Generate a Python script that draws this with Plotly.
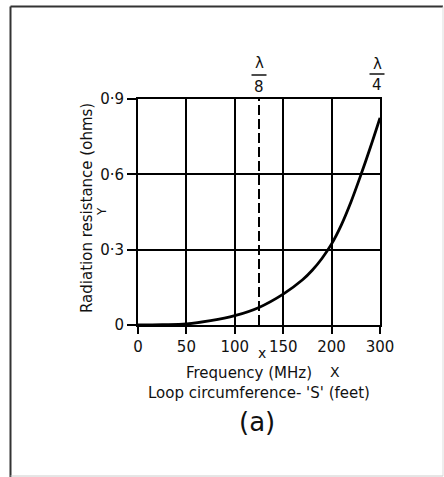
import plotly.graph_objects as go

# Data (x in grid units; last grid line is labelled 300 in the original)
freq_pos = [0, 25, 50, 75, 100, 125, 150, 170, 180, 190, 200, 210, 220, 230, 240, 250]
resistance = [0, 0.001, 0.004, 0.017, 0.037, 0.07, 0.123, 0.18, 0.218, 0.265, 0.323, 0.398, 0.49, 0.595, 0.707, 0.825]
x_tickvals = [0, 50, 100, 150, 200, 250]
x_ticktext = ["0", "50", "100", "150", "200", "300"]
y_tickvals = [0, 0.3, 0.6, 0.9]
y_ticktext = ["0", "0·3", "0·6", "0·9"]
lambda8_x = 125

W, H = 444, 477
L, R, T, B = 138, 380, 99, 325

def px(xp):
    return (xp - L) / (R - L)

def py(yp):
    return (B - yp) / (B - T)

FONT = "DejaVu Sans"
fig = go.Figure()
fig.add_trace(go.Scatter(x=freq_pos, y=resistance, mode="lines",
                         line=dict(color="black", width=2.8, shape="spline", smoothing=1),
                         hoverinfo="skip", showlegend=False))
fig.add_trace(go.Scatter(x=[lambda8_x, lambda8_x], y=[0, 0.9], mode="lines",
                         line=dict(color="black", width=2, dash="10px,4px"),
                         hoverinfo="skip", showlegend=False))

ann = []
def text(x, y, s, size=15, angle=0):
    ann.append(dict(xref="paper", yref="paper", x=px(x), y=py(y), text=s, showarrow=False,
                    xanchor="center", yanchor="middle", textangle=angle,
                    font=dict(family=FONT, size=size, color="#111")))

text(248.5, 373, "Frequency (MHz)")
text(335, 372, "X", size=14)
text(262, 353, "x", size=14)
text(259, 393, "Loop circumference- 'S' (feet)")
text(257, 422, "(a)", size=26)
text(87, 208, "Radiation resistance (ohms)", angle=-90)
text(102, 212, "Y", size=12, angle=-90)
text(259, 63, "λ", size=15)
text(259, 87, "8", size=15)
text(377, 64, "λ", size=15)
text(377, 85, "4", size=15)

shapes = [
    dict(type="line", xref="paper", yref="paper", x0=px(10.5), x1=px(443), y0=py(6.5), y1=py(6.5),
         line=dict(color="#333", width=2)),
    dict(type="line", xref="paper", yref="paper", x0=px(10.5), x1=px(10.5), y0=py(6.5), y1=py(480),
         line=dict(color="#333", width=2)),
    dict(type="line", xref="paper", yref="paper", x0=px(443), x1=px(443), y0=py(6.5), y1=py(476),
         line=dict(color="#ddd", width=1)),
    dict(type="line", xref="paper", yref="paper", x0=px(10.5), x1=px(443), y0=py(476), y1=py(476),
         line=dict(color="#ccc", width=1)),
    dict(type="line", xref="paper", yref="paper", x0=px(251.5), x1=px(266.5), y0=py(75), y1=py(75),
         line=dict(color="#111", width=1.5)),
    dict(type="line", xref="paper", yref="paper", x0=px(369.5), x1=px(384.5), y0=py(74), y1=py(74),
         line=dict(color="#111", width=1.5)),
]

fig.update_layout(
    width=W, height=H,
    margin=dict(l=L, r=W - R, t=T, b=H - B, pad=0),
    paper_bgcolor="white", plot_bgcolor="white",
    font=dict(family=FONT, size=15, color="#111"),
    annotations=ann, shapes=shapes,
    xaxis=dict(range=[0, 250], tickvals=x_tickvals, ticktext=x_ticktext,
               showgrid=True, gridcolor="black", gridwidth=2,
               showline=True, linecolor="black", linewidth=2, mirror=True,
               ticks="outside", ticklen=7, tickwidth=2, tickcolor="black",
               zeroline=False, fixedrange=True),
    yaxis=dict(range=[0, 0.9], tickvals=y_tickvals, ticktext=y_ticktext,
               showgrid=True, gridcolor="black", gridwidth=2,
               showline=True, linecolor="black", linewidth=2, mirror=True,
               ticks="outside", ticklen=9, tickwidth=2, tickcolor="black",
               zeroline=False, fixedrange=True),
)
fig.write_html("out.html", config={"displayModeBar": False},
               post_script="document.body.style.margin='0';document.body.style.overflow='hidden';")
